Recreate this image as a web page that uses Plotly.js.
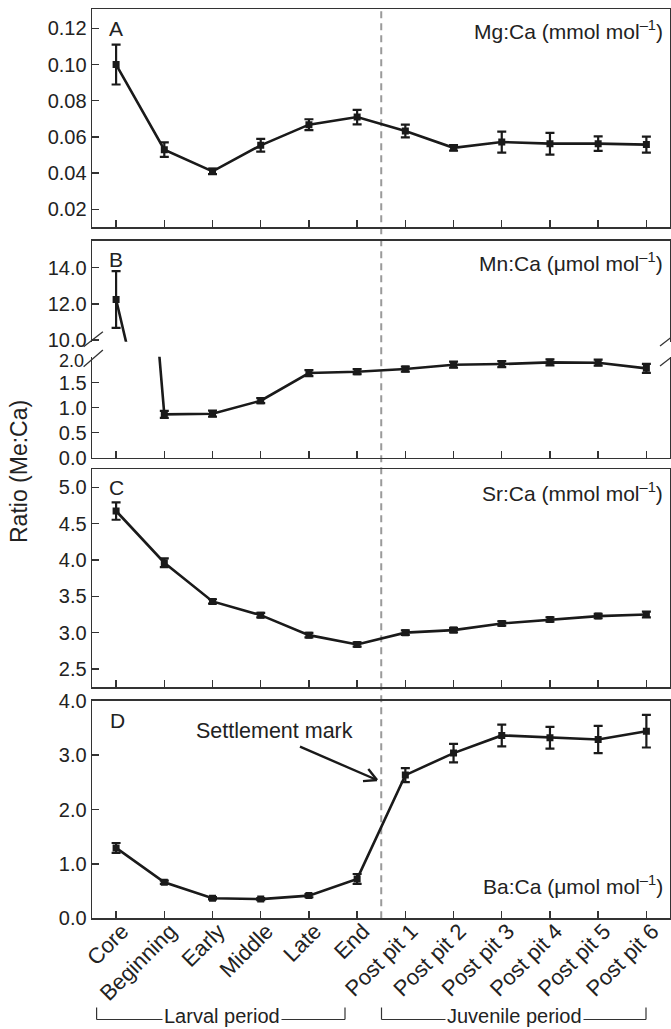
<!DOCTYPE html>
<html>
<head>
<meta charset="utf-8">
<script src="https://cdn.plot.ly/plotly-3.0.1.min.js"></script>
<style>html,body{margin:0;padding:0;background:#fff;}#chart{width:671px;height:1029px;}</style>
</head>
<body>
<div id="chart"></div>
<script>
// ---- data ----
const categories = ['Core','Beginning','Early','Middle','Late','End','Post pit 1','Post pit 2','Post pit 3','Post pit 4','Post pit 5','Post pit 6'];
const mgCa    = [0.100,0.053,0.041,0.0554,0.0668,0.071,0.0633,0.054,0.0572,0.0563,0.0563,0.0558];
const mgCaErr = [0.011,0.004,0.0015,0.0035,0.003,0.004,0.0035,0.0015,0.0058,0.006,0.004,0.0044];
const mnCa    = [12.24,0.867,0.88,1.14,1.693,1.72,1.773,1.86,1.873,1.907,1.9,1.787];
const mnCaErr = [1.57,0.07,0.06,0.05,0.06,0.05,0.05,0.06,0.06,0.06,0.06,0.09];
const srCa    = [4.674,3.962,3.43,3.241,2.966,2.838,3.0,3.035,3.127,3.182,3.228,3.25];
const srCaErr = [0.12,0.06,0.03,0.03,0.03,0.03,0.03,0.03,0.03,0.03,0.03,0.04];
const baCa    = [1.294,0.663,0.368,0.353,0.417,0.724,2.632,3.037,3.362,3.319,3.288,3.44];
const baCaErr = [0.09,0.03,0.02,0.02,0.03,0.09,0.13,0.17,0.2,0.2,0.25,0.3];
const ticksA = [0.02,0.04,0.06,0.08,0.10,0.12];
const ticksBhi = [10,12,14];
const ticksBlo = [0,0.5,1,1.5,2];
const ticksBloText = ['0.0','0.5','1.0','1.5',''];
const ticksC = [2.5,3,3.5,4,4.5,5];
const ticksD = [0,1,2,3,4];
const settlementPos = 5.5;

// ---- layout helpers ----
const W = 671, H = 1029, L = 92, R = 1;
const PW = W - L - R;
const px = x => (x - L) / PW;
const py = y => 1 - y / H;
const dom = (top, bot) => [py(bot), py(top)];
const INK = '#1a1a1a', FRAME = '#333333';
const FONT = 'Liberation Sans, Arial, Helvetica, sans-serif';
const xr = [-0.5, 11.49];

function trace(y, err, xa, ya) {
  return {
    x: categories, y: y, xaxis: xa, yaxis: ya, type: 'scatter', mode: 'lines+markers',
    line: {color: INK, width: 2.6},
    marker: {symbol: 'square', size: 7, color: INK},
    error_y: {type: 'data', array: err, visible: true, thickness: 2.2, width: 4.5, color: INK},
    hoverinfo: 'skip', showlegend: false
  };
}
const data = [
  trace(mgCa, mgCaErr, 'x', 'y'),
  trace(mnCa, mnCaErr, 'x2', 'y2'),
  trace(mnCa, mnCaErr, 'x3', 'y3'),
  trace(srCa, srCaErr, 'x4', 'y4'),
  trace(baCa, baCaErr, 'x5', 'y5')
];

function xax(anchor, opts) {
  return Object.assign({
    type: 'category', categoryarray: categories, range: xr, anchor: anchor,
    showgrid: false, zeroline: false, showline: true, mirror: true,
    linecolor: FRAME, linewidth: 1.4, ticks: 'inside', ticklen: 7, tickwidth: 1.4,
    tickcolor: FRAME, showticklabels: false, fixedrange: true
  }, opts || {});
}
function yax(anchor, domain, range, tickvals, fmt, opts) {
  return Object.assign({
    anchor: anchor, domain: domain, range: range, tickvals: tickvals, tickformat: fmt,
    showgrid: false, zeroline: false, showline: true, mirror: true,
    linecolor: FRAME, linewidth: 1.4, ticks: 'inside', ticklen: 7, tickwidth: 1.4,
    tickcolor: FRAME, tickfont: {family: FONT, size: 20, color: '#222'}, fixedrange: true
  }, opts || {});
}

const layout = {
  width: W, height: H,
  margin: {l: L, r: R, t: 0, b: 0, autoexpand: false},
  paper_bgcolor: '#fff', plot_bgcolor: 'rgba(0,0,0,0)',
  font: {family: FONT, color: '#222'},
  showlegend: false,
  xaxis: xax('y'),
  yaxis: yax('x', dom(9, 227.3), [0.0101, 0.1307], ticksA, '.2f'),
  xaxis2: xax('y2', {side: 'top', ticks: '', mirror: false}),
  yaxis2: yax('x2', dom(240.7, 341.7), [9.9, 15.5], ticksBhi, '.1f'),
  xaxis3: xax('y3', {mirror: false}),
  yaxis3: yax('x3', dom(356.7, 457.7), [0, 2.02], ticksBlo, '.1f', {ticktext: ticksBloText, tickmode: 'array'}),
  xaxis4: xax('y4'),
  yaxis4: yax('x4', dom(469.3, 687.3), [2.248, 5.248], ticksC, '.1f'),
  xaxis5: xax('y5', {showticklabels: true, tickangle: -45, ticklabelstandoff: -10, ticklabelshift: 6,
    tickfont: {family: FONT, size: 22, color: '#222'}}),
  yaxis5: yax('x5', dom(700.7, 918.3), [0, 4.0], ticksD, '.1f'),
  shapes: [],
  annotations: []
};

// dashed settlement line across all panels
layout.shapes.push({type: 'line', xref: 'x5', yref: 'paper', x0: settlementPos, x1: settlementPos,
  y0: py(918.3), y1: py(9), line: {color: '#9a9a9a', width: 2, dash: '7px,5px'}, layer: 'below'});

function seg(x0, y0, x1, y1, w, c) {
  layout.shapes.push({type: 'line', xref: 'paper', yref: 'paper', x0: px(x0), y0: py(y0), x1: px(x1), y1: py(y1),
    line: {color: c || FRAME, width: w || 1.4}});
}
// axis break marks
seg(83.6, 346.7, 102.9, 331.7, 1.3);
seg(83.6, 366.7, 102.9, 350.0, 1.3);
seg(660, 346.0, 671, 337.5, 1.3);
seg(660, 366.0, 671, 357.5, 1.3);

// settlement arrow
seg(300, 746.7, 377, 780, 2.4, INK);
seg(377, 780, 368.3, 769.1, 2.4, INK);
seg(377, 780, 363, 781.1, 2.4, INK);

// period brackets
seg(96.6, 1007.5, 96.6, 1019.5, 1.2);
seg(96.6, 1019.5, 345, 1019.5, 1.2);
seg(345, 1007.5, 345, 1019.5, 1.2);
seg(381.5, 1007.5, 381.5, 1019.5, 1.2);
seg(381.5, 1019.5, 646, 1019.5, 1.2);
seg(646, 1007.5, 646, 1019.5, 1.2);

function ann(text, x, y, size, xanchor, extra) {
  layout.annotations.push(Object.assign({text: text, xref: 'paper', yref: 'paper', x: px(x), y: py(y),
    xanchor: xanchor || 'center', yanchor: 'middle', showarrow: false,
    font: {family: FONT, size: size, color: '#222'}}, extra || {}));
}
ann('2.0', 86, 361, 18, 'right');
ann('A', 107, 28.5, 21, 'left');
ann('B', 107, 259.5, 21, 'left');
ann('C', 107, 487.5, 21, 'left');
ann('D', 108, 720, 21, 'left');
ann('Mg:Ca (mmol mol<sup>–1</sup>)', 665, 30, 21, 'right');
ann('Mn:Ca (μmol mol<sup>–1</sup>)', 665, 262.5, 21, 'right');
ann('Sr:Ca (mmol mol<sup>–1</sup>)', 665, 492.5, 21, 'right');
ann('Ba:Ca (μmol mol<sup>–1</sup>)', 665, 885, 21, 'right');
ann('Settlement mark', 274, 730.5, 21.5, 'center');
ann('Larval period', 221.8, 1016, 20, 'center', {bgcolor: '#fff', borderpad: 1});
ann('Juvenile period', 514, 1016, 20, 'center', {bgcolor: '#fff', borderpad: 1});
ann('Ratio (Me:Ca)', 19, 472, 23, 'center', {textangle: -90});

Plotly.newPlot('chart', data, layout, {staticPlot: true, displayModeBar: false});
</script>
</body>
</html>
